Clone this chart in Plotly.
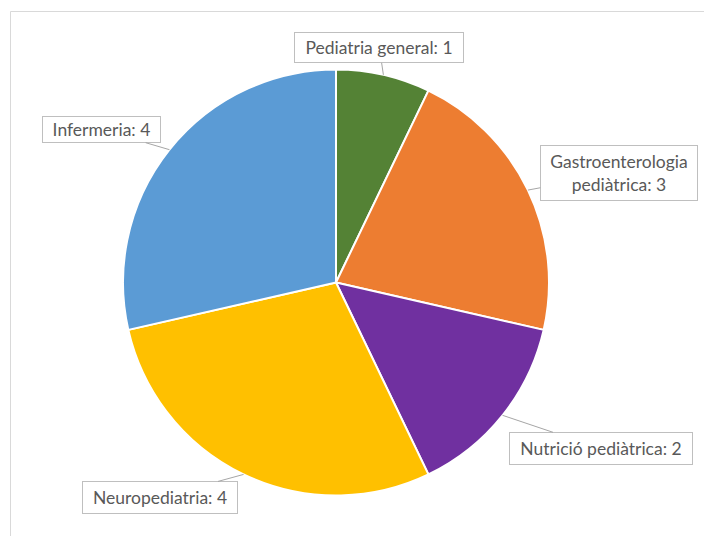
import math
import plotly.graph_objects as go

# Data
categories = ["Pediatria general", "Gastroenterologia pediàtrica", "Nutrició pediàtrica",
              "Neuropediatria", "Infermeria"]
values = [1, 3, 2, 4, 4]
label_texts = ["Pediatria general: 1", "Gastroenterologia<br>pediàtrica: 3",
               "Nutrició pediàtrica: 2", "Neuropediatria: 4", "Infermeria: 4"]
colors = ["#548235", "#ED7D31", "#7030A0", "#FFC000", "#5B9BD5"]

# Layout constants (screen pixels)
PAGE_OFF = 8  # default page body margin
W, H = 712 - PAGE_OFF, 536 - PAGE_OFF
CX, CY, R = 336, 282.5, 213
# label box offsets (box center relative to leader tip) and box sizes
offsets = [(-4, -27), (91, -17), (98, 33), (-84, 23), (-68, -20)]
box_sizes = [(168, 29), (156, 54), (182, 31), (154, 31), (117, 25)]

def px(x):
    return (x - PAGE_OFF) / W

def py(y):
    return 1 - (y - PAGE_OFF) / H

fig = go.Figure(go.Pie(
    labels=categories, values=values, sort=False, direction="clockwise", rotation=0,
    marker=dict(colors=colors, line=dict(color="white", width=2)),
    textinfo="none", showlegend=False,
    domain=dict(x=[px(CX - R), px(CX + R)], y=[py(CY + R), py(CY - R)]),
))

total = sum(values)
cum = 0
annotations = []
for i, v in enumerate(values):
    mid = (cum + v / 2) / total * 2 * math.pi
    cum += v
    tx = CX + R * math.sin(mid)
    ty = CY - R * math.cos(mid)
    ax, ay = offsets[i]
    bw, bh = box_sizes[i]
    annotations.append(dict(
        x=px(tx), y=py(ty), xref="paper", yref="paper",
        text=label_texts[i], showarrow=True, arrowhead=0, arrowwidth=1,
        arrowcolor="#a6a6a6", ax=ax, ay=ay,
        font=dict(family="Lato", size=17.5, color="#595959"),
        bgcolor="white", bordercolor="#bfbfbf", borderwidth=1, borderpad=0,
        width=bw, height=bh, align="center", valign="middle",
    ))

fig.update_layout(
    width=W, height=H, margin=dict(l=0, r=0, t=0, b=0),
    paper_bgcolor="white", plot_bgcolor="white",
    annotations=annotations,
    shapes=[dict(type="rect", xref="paper", yref="paper",
                 x0=px(10.5), y0=py(560), x1=px(740), y1=py(11.5),
                 line=dict(color="#d9d9d9", width=1), layer="below")],
)

fig.write_html("out.html")
